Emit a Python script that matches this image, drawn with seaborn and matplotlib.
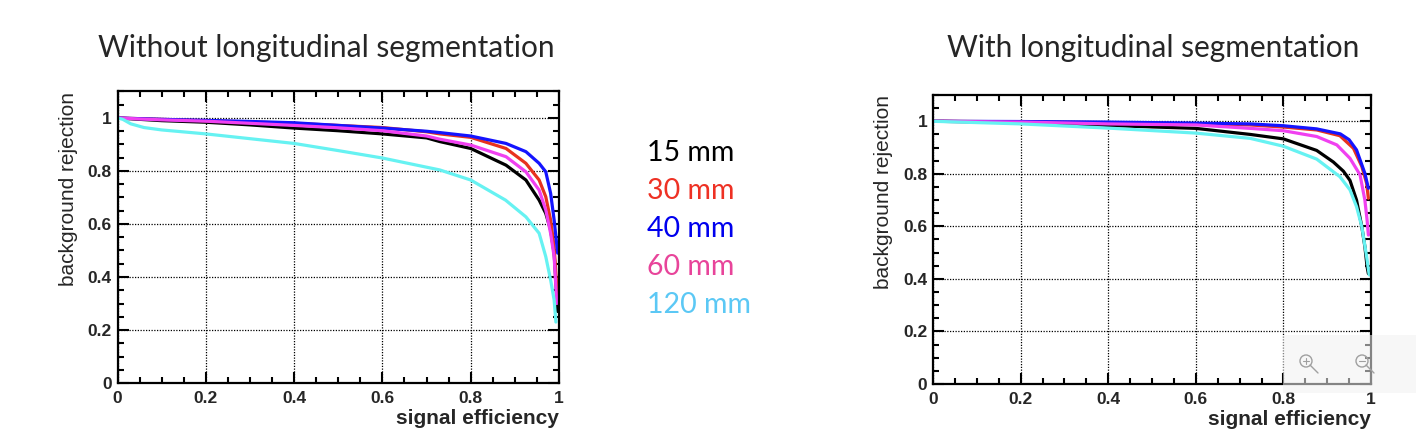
import matplotlib
matplotlib.use("Agg")
import matplotlib.pyplot as plt
from matplotlib.ticker import MultipleLocator, FuncFormatter
from matplotlib.patches import Rectangle, Circle
from matplotlib.lines import Line2D
import pandas as pd
import seaborn as sns

# ── Data ────────────────────────────────────────────────────────────────────
SIZES = ["15 mm", "30 mm", "40 mm", "60 mm", "120 mm"]
LINE_COLORS = ["#000000", "#e8321e", "#1414ff", "#f040f0", "#66f2f2"]
TEXT_COLORS = ["#000000", "#ee3124", "#0000ee", "#e8449a", "#5bc8f5"]

# without longitudinal segmentation
wo_x_15 = [0, 0.1, 0.2, 0.3, 0.4, 0.5, 0.6, 0.7, 0.73, 0.8, 0.88, 0.925, 0.955, 0.97, 0.981, 0.989, 0.997]
wo_y_15 = [1.0, 0.99, 0.984, 0.974, 0.962, 0.952, 0.94, 0.925, 0.911, 0.885, 0.822, 0.766, 0.69, 0.64, 0.578, 0.489, 0.27]
wo_x_30 = [0, 0.1, 0.2, 0.3, 0.4, 0.5, 0.6, 0.7, 0.73, 0.8, 0.88, 0.925, 0.955, 0.97, 0.981, 0.989, 0.996]
wo_y_30 = [1.0, 0.995, 0.99, 0.985, 0.98, 0.972, 0.964, 0.948, 0.94, 0.927, 0.885, 0.829, 0.766, 0.703, 0.615, 0.514, 0.33]
wo_x_40 = [0, 0.1, 0.2, 0.3, 0.4, 0.5, 0.6, 0.7, 0.73, 0.8, 0.88, 0.925, 0.955, 0.97, 0.981, 0.989, 0.997]
wo_y_40 = [1.0, 0.995, 0.991, 0.987, 0.982, 0.972, 0.962, 0.95, 0.945, 0.932, 0.904, 0.873, 0.829, 0.797, 0.716, 0.615, 0.49]
wo_x_60 = [0, 0.1, 0.2, 0.3, 0.4, 0.5, 0.6, 0.7, 0.73, 0.8, 0.88, 0.925, 0.955, 0.97, 0.981, 0.989, 0.995]
wo_y_60 = [1.0, 0.993, 0.988, 0.98, 0.972, 0.963, 0.952, 0.932, 0.92, 0.898, 0.854, 0.797, 0.728, 0.653, 0.565, 0.477, 0.30]
wo_x_120 = [0, 0.012, 0.03, 0.06, 0.1, 0.2, 0.3, 0.4, 0.5, 0.6, 0.73, 0.8, 0.879, 0.925, 0.955, 0.97, 0.981, 0.989, 0.993]
wo_y_120 = [1.0, 0.995, 0.978, 0.964, 0.955, 0.94, 0.922, 0.904, 0.877, 0.849, 0.804, 0.766, 0.69, 0.627, 0.565, 0.477, 0.389, 0.313, 0.23]

# with longitudinal segmentation
w_x_15 = [0, 0.2, 0.4, 0.6, 0.724, 0.8, 0.876, 0.914, 0.937, 0.952, 0.967, 0.979, 0.986, 0.991, 0.994]
w_y_15 = [1.0, 0.996, 0.984, 0.973, 0.95, 0.933, 0.889, 0.845, 0.81, 0.775, 0.70, 0.599, 0.523, 0.447, 0.42]
w_x_30 = [0, 0.2, 0.4, 0.6, 0.724, 0.8, 0.876, 0.929, 0.96, 0.979, 0.99, 0.994]
w_y_30 = [1.0, 0.998, 0.995, 0.99, 0.986, 0.978, 0.967, 0.945, 0.897, 0.828, 0.764, 0.707]
w_x_40 = [0, 0.2, 0.4, 0.6, 0.724, 0.8, 0.876, 0.93, 0.95, 0.967, 0.986, 0.994]
w_y_40 = [1.0, 0.999, 0.997, 0.993, 0.99, 0.983, 0.971, 0.952, 0.93, 0.891, 0.802, 0.745]
w_x_60 = [0, 0.2, 0.4, 0.6, 0.724, 0.8, 0.876, 0.922, 0.952, 0.975, 0.986, 0.991, 0.994]
w_y_60 = [1.0, 0.997, 0.99, 0.986, 0.973, 0.964, 0.942, 0.91, 0.859, 0.796, 0.70, 0.625, 0.567]
w_x_120 = [0, 0.2, 0.4, 0.6, 0.724, 0.8, 0.876, 0.929, 0.952, 0.967, 0.979, 0.99, 0.996]
w_y_120 = [1.0, 0.99, 0.974, 0.955, 0.935, 0.905, 0.856, 0.789, 0.739, 0.675, 0.599, 0.485, 0.415]

TITLES = ["Without longitudinal segmentation", "With longitudinal segmentation"]


def to_frame(xs, ys):
    rows = []
    for size, x, y in zip(SIZES, xs, ys):
        for xi, yi in zip(x, y):
            rows.append({"size": size, "eff": xi, "rej": yi})
    return pd.DataFrame(rows)


df_wo = to_frame([wo_x_15, wo_x_30, wo_x_40, wo_x_60, wo_x_120],
                 [wo_y_15, wo_y_30, wo_y_40, wo_y_60, wo_y_120])
df_w = to_frame([w_x_15, w_x_30, w_x_40, w_x_60, w_x_120],
                [w_y_15, w_y_30, w_y_40, w_y_60, w_y_120])

# ── Styling (ROOT-like) ─────────────────────────────────────────────────────
sns.set_style("ticks")
plt.rcParams["font.family"] = ["Liberation Sans", "DejaVu Sans"]

fig = plt.figure(figsize=(14.16, 4.44), dpi=100)
ax_l = fig.add_axes([117.5 / 1416, 61 / 444, 441.5 / 1416, 291.5 / 444])
ax_r = fig.add_axes([933 / 1416, 60 / 444, 438 / 1416, 289 / 444])

palette = dict(zip(SIZES, LINE_COLORS))
fmt = FuncFormatter(lambda v, _: f"{v:g}")

for ax, df in [(ax_l, df_wo), (ax_r, df_w)]:
    sns.lineplot(data=df, x="eff", y="rej", hue="size", hue_order=SIZES,
                 palette=palette, sort=False, estimator=None, linewidth=2.3,
                 legend=False, ax=ax)
    ax.set_xlim(0, 1)
    ax.set_ylim(0, 1.1)
    ax.xaxis.set_major_locator(MultipleLocator(0.2))
    ax.xaxis.set_minor_locator(MultipleLocator(0.05))
    ax.yaxis.set_major_locator(MultipleLocator(0.2))
    ax.yaxis.set_minor_locator(MultipleLocator(0.05))
    ax.xaxis.set_major_formatter(fmt)
    ax.yaxis.set_major_formatter(fmt)
    ax.tick_params(which="both", direction="in", top=True, right=True,
                   color="black", width=1.5)
    ax.tick_params(which="major", length=8, labelsize=12.5, pad=4)
    ax.tick_params(axis="x", which="major", pad=6)
    ax.tick_params(which="minor", length=4)
    for lab in ax.get_xticklabels() + ax.get_yticklabels():
        lab.set_fontweight("bold")
    for sp in ax.spines.values():
        sp.set_linewidth(1.6)
        sp.set_color("black")
    ax.grid(which="major", color="black", linestyle=(0, (1, 1.2)), linewidth=0.9)
    ax.set_axisbelow(True)
    ax.set_xlabel("signal efficiency", loc="right", fontsize=15,
                  fontweight="bold", labelpad=2)
    ax.set_ylabel("background rejection", loc="top", fontsize=15, labelpad=7)

# slide titles
fig.text(326 / 1416, 1 - 48 / 444, TITLES[0], ha="center", va="center",
         fontsize=21.5, family=["Lato", "DejaVu Sans"])
fig.text(1153 / 1416, 1 - 48 / 444, TITLES[1], ha="center", va="center",
         fontsize=21.5, family=["Lato", "DejaVu Sans"])

# text legend between the panels
for i, (size, col) in enumerate(zip(SIZES, TEXT_COLORS)):
    fig.text(647 / 1416, 1 - (153 + 38 * i) / 444, size, color=col,
             ha="left", va="center", fontsize=20.5, family=["Lato", "DejaVu Sans"])

# translucent zoom overlay in the lower right corner
fig.patches.append(Rectangle((1283 / 1416, 51 / 444), 133 / 1416, 58 / 444,
                             transform=fig.transFigure, facecolor="#f2f2f2",
                             alpha=0.55, edgecolor="none", zorder=10))
for cx in (1306, 1362):
    fig.patches.append(Circle((cx, 444 - 361), 6, transform=None, fill=False,
                              edgecolor="#a0a0a0", linewidth=1.0, zorder=11))
    fig.lines.append(Line2D([cx + 4, cx + 12], [444 - 365, 444 - 373],
                            transform=None, color="#a0a0a0", linewidth=1.0, zorder=11))
fig.lines.append(Line2D([1303, 1309], [444 - 361, 444 - 361], transform=None,
                        color="#a0a0a0", linewidth=0.8, zorder=11))
fig.lines.append(Line2D([1306, 1306], [444 - 358, 444 - 364], transform=None,
                        color="#a0a0a0", linewidth=0.8, zorder=11))
fig.lines.append(Line2D([1359, 1365], [444 - 361, 444 - 361], transform=None,
                        color="#a0a0a0", linewidth=0.8, zorder=11))

fig.savefig("out.png", dpi=100)
plt.close(fig)
